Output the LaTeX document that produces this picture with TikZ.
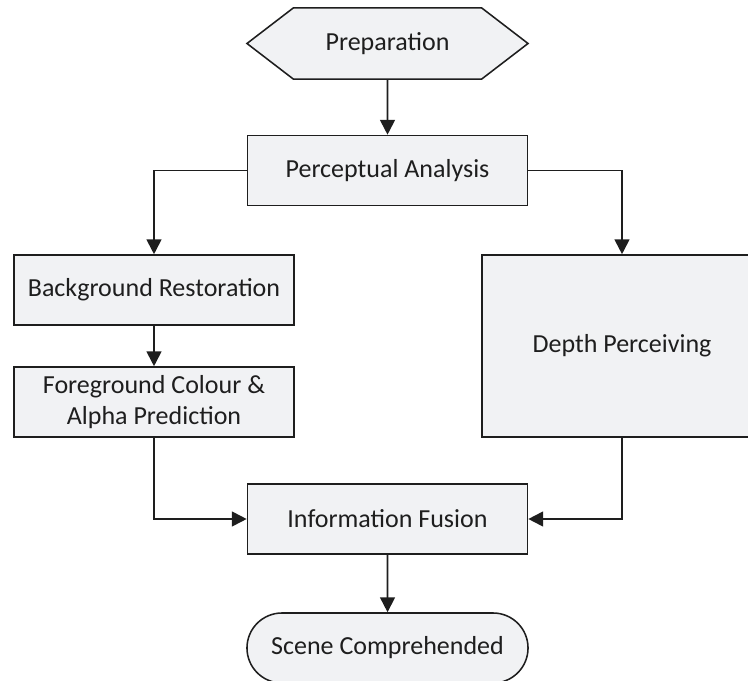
\documentclass[tikz,border=0pt]{standalone}
\usepackage{fontspec}
\setmainfont{Carlito}
\usepackage{xcolor}
\usetikzlibrary{shapes, shapes.symbols, shapes.misc, arrows.meta, positioning, calc}
\definecolor{boxfill}{RGB}{241, 242, 244}
\definecolor{boxline}{RGB}{30, 30, 30}

\begin{document}
\begin{tikzpicture}[x=0.025cm, y=-0.025cm,
    every node/.style = {font=\fontsize{18.5}{22}\selectfont, text=boxline, align=center},
    stage/.style = {rectangle, draw=boxline, fill=boxfill, line width=1.1pt,
        inner sep=0pt, minimum width=7cm, minimum height=1.75cm},
    flow/.style = {draw=boxline, line width=1.3pt, -{Triangle[length=10.5pt, width=10.5pt]}}]
    \useasboundingbox (0,0) rectangle (748,681);
        \node[signal, signal to=west and east, signal from=nowhere, signal pointer angle=75,
            draw=boxline, fill=boxfill, line width=1.1pt, inner sep=0pt,
            minimum width=7.025cm, minimum height=1.78cm] (prep) at (387.5,43.5) {Preparation};
        \node[stage] (analysis) at (387.5,170.5) {Perceptual Analysis};
        \node[stage] (bgrest) at (154,290) {Background Restoration};
        \node[stage] (fgpred) at (154,402) {Foreground Colour \&\\Alpha Prediction};
        \node[stage, minimum height=4.55cm] (depth) at (622,346) {Depth Perceiving};
        \node[stage] (fusion) at (387.5,519) {Information Fusion};
        \node[rounded rectangle, draw=boxline, fill=boxfill, line width=1.1pt, inner sep=0pt,
            minimum width=7.025cm, minimum height=1.75cm] (scene) at (387.5,648) {Scene Comprehended};
        \draw[flow] (prep) -- (analysis);
        \draw[flow] (analysis.west) -| (bgrest);
        \draw[flow] (analysis.east) -| (depth);
        \draw[flow] (bgrest) -- (fgpred);
        \draw[flow] (fgpred) |- (fusion);
        \draw[flow] (depth) |- (fusion);
        \draw[flow] (fusion) -- (scene);
\end{tikzpicture}
\end{document}
